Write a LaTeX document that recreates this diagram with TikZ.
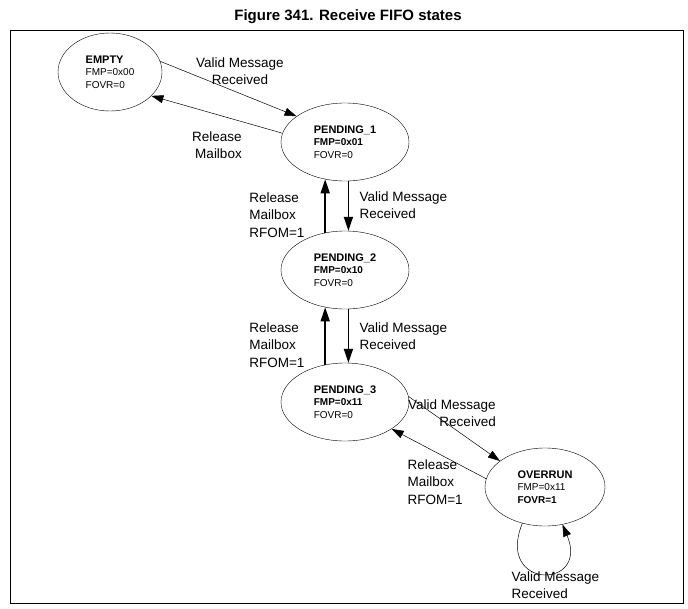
\documentclass[tikz,border=0pt]{standalone}
\usepackage{fontspec}
\setmainfont{Liberation Sans}
\usetikzlibrary{shapes.geometric,arrows.meta}
\begin{document}
\begin{tikzpicture}[x=1pt,y=-1pt,
  state/.style={draw,ellipse,minimum width=#1,minimum height=78pt,inner sep=0pt,align=left,font=\fontsize{10}{12.5}\selectfont},
  state/.default=128pt,
  lbl/.style={font=\fontsize{13.5}{17.5}\selectfont},
  tr/.style={-{Triangle[length=12pt,width=8pt]},line width=0.5pt},
  vt/.style={-{Triangle[length=14pt,width=9pt]},line width=1.6pt}]
\useasboundingbox (0,0) rectangle (688,608);
\node[font=\bfseries\fontsize{15}{17}\selectfont] (title) at (348,17) {Figure 341. Receive FIFO states};
\draw[line width=0.6pt] (10,30) rectangle (683,603);
%states
\node[state=104pt] (empty) at (110,72) {\textbf{\fontsize{11}{13}\selectfont EMPTY}\\FMP=0x00\\FOVR=0};
\node[state] (p1) at (345,142) {\textbf{\fontsize{11}{13}\selectfont PENDING\_1}\\\textbf{FMP=0x01}\\FOVR=0};
\node[state] (p2) at (345,270) {\textbf{\fontsize{11}{13}\selectfont PENDING\_2}\\\textbf{FMP=0x10}\\FOVR=0};
\node[state] (p3) at (345,402) {\textbf{\fontsize{11}{13}\selectfont PENDING\_3}\\\textbf{FMP=0x11}\\FOVR=0};
\node[state=120pt] (ovr) at (545,487) {\textbf{\fontsize{11}{13}\selectfont OVERRUN}\\FMP=0x11\\\textbf{FOVR=1}};
%transitions
\draw[tr] (empty.12) -- (p1.152);
\draw[tr] (p1.172) -- (empty.-30);
\draw[vt] (p1.-85) -- (p2.85);
\draw[vt] (p2.118) -- (p1.242);
\draw[vt] (p2.-85) -- (p3.85);
\draw[vt] (p3.118) -- (p2.242);
\draw[tr] (p3.5) -- (ovr.150);
\draw[tr] (ovr.172) -- (p3.-30);
\draw[tr] (ovr.238) .. controls (495,590) and (590,590) .. (ovr.295);
%labels
\node[lbl,align=center] (l1) at (240,71) {Valid Message\\Received};
\node[lbl,align=right] (l2) at (217,145) {Release\\Mailbox};
\node[lbl,align=left,anchor=east] (l3) at (308,215) {Release\\Mailbox\\RFOM=1};
\node[lbl,align=left,anchor=west] (l4) at (356,205) {Valid Message\\Received};
\node[lbl,align=left,anchor=east] (l5) at (308,345) {Release\\Mailbox\\RFOM=1};
\node[lbl,align=left,anchor=west] (l6) at (356,336) {Valid Message\\Received};
\node[lbl,align=right] (l7) at (452,413) {Valid Message\\Received};
\node[lbl,align=left,anchor=west] (l8) at (404,482) {Release\\Mailbox\\RFOM=1};
\node[lbl,align=left,anchor=west] (l9) at (508,585) {Valid Message\\Received};
\end{tikzpicture}
\end{document}
